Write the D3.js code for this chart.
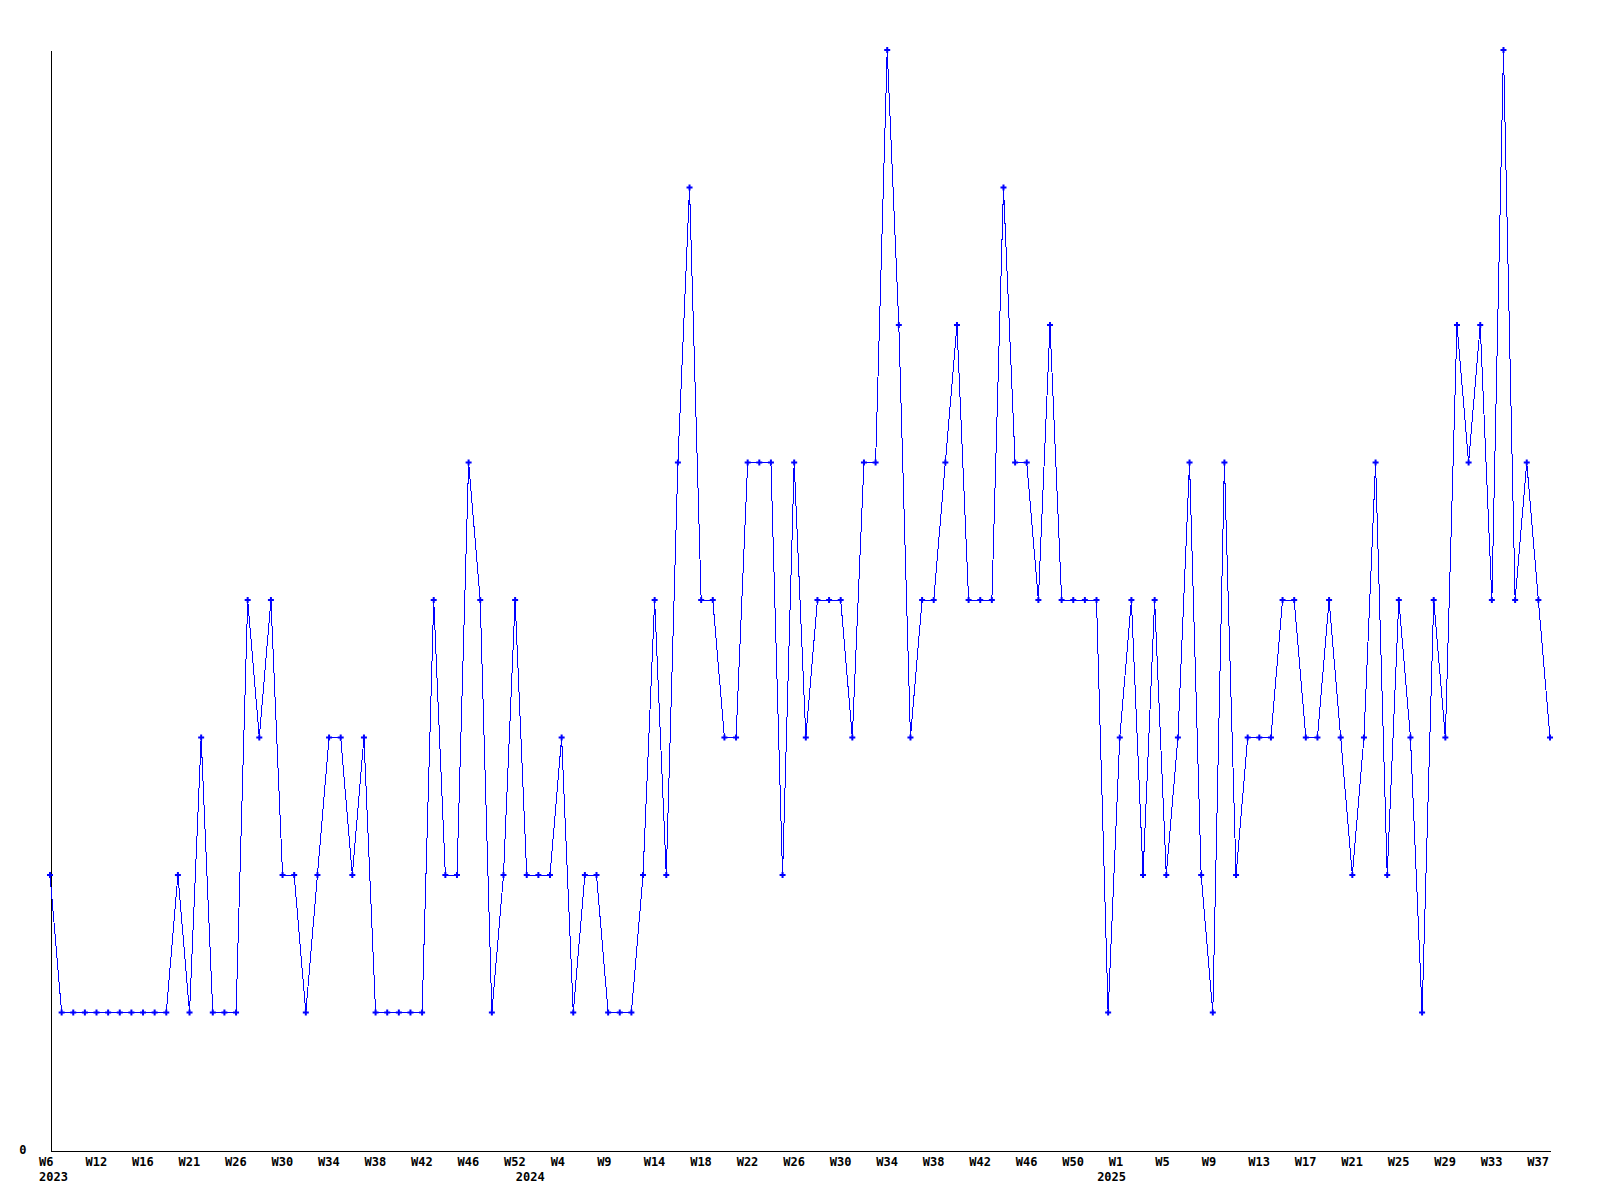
<!DOCTYPE html>
<html>
<head>
<meta charset="utf-8">
<script src="https://cdn.jsdelivr.net/npm/d3@7"></script>
<style>
  body { margin: 0; background: #fff; }
  svg { display: block; }
</style>
</head>
<body>
<svg id="canvas"></svg>
<script>
// weekly counts, one per point (weeks with no data are skipped)
const weekValues = [
  2, 1, 1, 1, 1, 1, 1, 1, 1, 1,
  1, 2, 1, 3, 1, 1, 1, 4, 3, 4,
  2, 2, 1, 2, 3, 3, 2, 3, 1, 1,
  1, 1, 1, 4, 2, 2, 5, 4, 1, 2,
  4, 2, 2, 2, 3, 1, 2, 2, 1, 1,
  1, 2, 4, 2, 5, 7, 4, 4, 3, 3,
  5, 5, 5, 2, 5, 3, 4, 4, 4, 3,
  5, 5, 8, 6, 3, 4, 4, 5, 6, 4,
  4, 4, 7, 5, 5, 4, 6, 4, 4, 4,
  4, 1, 3, 4, 2, 4, 2, 3, 5, 2,
  1, 5, 2, 3, 3, 3, 4, 4, 3, 3,
  4, 3, 2, 3, 5, 2, 4, 3, 1, 4,
  3, 6, 5, 6, 4, 8, 4, 5, 4, 3
];

// a label on every 4th point
const tickLabels = [
  "W6", "W12", "W16", "W21", "W26", "W30", "W34", "W38", "W42", "W46", "W52",
  "W4", "W9", "W14", "W18", "W22", "W26", "W30", "W34", "W38", "W42", "W46", "W50",
  "W1", "W5", "W9", "W13", "W17", "W21", "W25", "W29", "W33", "W37"
];
const tickIndex = tickLabels.map((d, i) => i * 4);

const yearLabels = ["2023", "2024", "2025"];
const yearIndex = [0, 41, 91];

const yTicks = [0];

function draw() {
  const canvasWidth = 1600, canvasHeight = 1200;
  const margin = { top: 50, right: 50, bottom: 50, left: 50 };
  const font = "'DejaVu Sans Mono', monospace";

  const svg = d3.select("#canvas")
    .attr("width", canvasWidth)
    .attr("height", canvasHeight);

  svg.append("rect")
    .attr("width", canvasWidth)
    .attr("height", canvasHeight)
    .attr("fill", "#fff");

  const xScale = d3.scalePoint()
    .domain(d3.range(weekValues.length))
    .range([margin.left, canvasWidth - margin.right]);

  const yScale = d3.scaleLinear()
    .domain([0, 8])
    .range([canvasHeight - margin.bottom, margin.top]);

  // y axis: just the line and a 0
  const axisY = d3.axisLeft(yScale)
    .tickValues(yTicks)
    .tickFormat(d3.format("d"))
    .tickSize(0)
    .tickSizeOuter(0)
    .tickPadding(24);

  const gy = svg.append("g")
    .attr("transform", `translate(${margin.left + 0.5},0)`)
    .call(axisY);
  gy.select(".domain").attr("stroke", "#000").attr("shape-rendering", "crispEdges");
  gy.selectAll("text")
    .attr("font-family", font)
    .attr("font-weight", "bold")
    .attr("font-size", 12)
    .attr("fill", "#000");

  // x axis with week labels
  const axisX = d3.axisBottom(xScale)
    .tickValues(tickIndex)
    .tickFormat((d, i) => tickLabels[i])
    .tickSize(0)
    .tickSizeOuter(0)
    .tickPadding(7);

  const gx = svg.append("g")
    .attr("transform", `translate(0,${canvasHeight - margin.bottom + 0.5})`)
    .call(axisX);
  gx.select(".domain").attr("stroke", "#000").attr("shape-rendering", "crispEdges");
  gx.selectAll("text")
    .attr("font-family", font)
    .attr("font-weight", "bold")
    .attr("font-size", 12)
    .attr("fill", "#000")
    .attr("text-anchor", "start")
    .attr("dx", -11.5);

  // year row under the week labels
  const axisYear = d3.axisBottom(xScale)
    .tickValues(yearIndex)
    .tickFormat((d, i) => yearLabels[i])
    .tickSize(0)
    .tickPadding(22.5);

  const gyear = svg.append("g")
    .attr("transform", `translate(0,${canvasHeight - margin.bottom})`)
    .call(axisYear);
  gyear.select(".domain").remove();
  gyear.selectAll("text")
    .attr("font-family", font)
    .attr("font-weight", "bold")
    .attr("font-size", 12)
    .attr("fill", "#000")
    .attr("text-anchor", "start")
    .attr("dx", -11.5);

  // the series
  const lineGen = d3.line()
    .x((d, i) => xScale(i))
    .y((d) => yScale(d));

  svg.append("path")
    .datum(weekValues)
    .attr("fill", "none")
    .attr("stroke", "#0000ff")
    .attr("stroke-width", 1)
    .attr("shape-rendering", "crispEdges")
    .attr("d", lineGen);

  const marker = d3.symbol().type(d3.symbolCross).size(20);

  svg.append("g")
    .selectAll("path")
    .data(weekValues)
    .join("path")
    .attr("transform", (d, i) => `translate(${xScale(i)},${yScale(d)})`)
    .attr("d", marker)
    .attr("fill", "#0000ff");
}

draw();
</script>
</body>
</html>
